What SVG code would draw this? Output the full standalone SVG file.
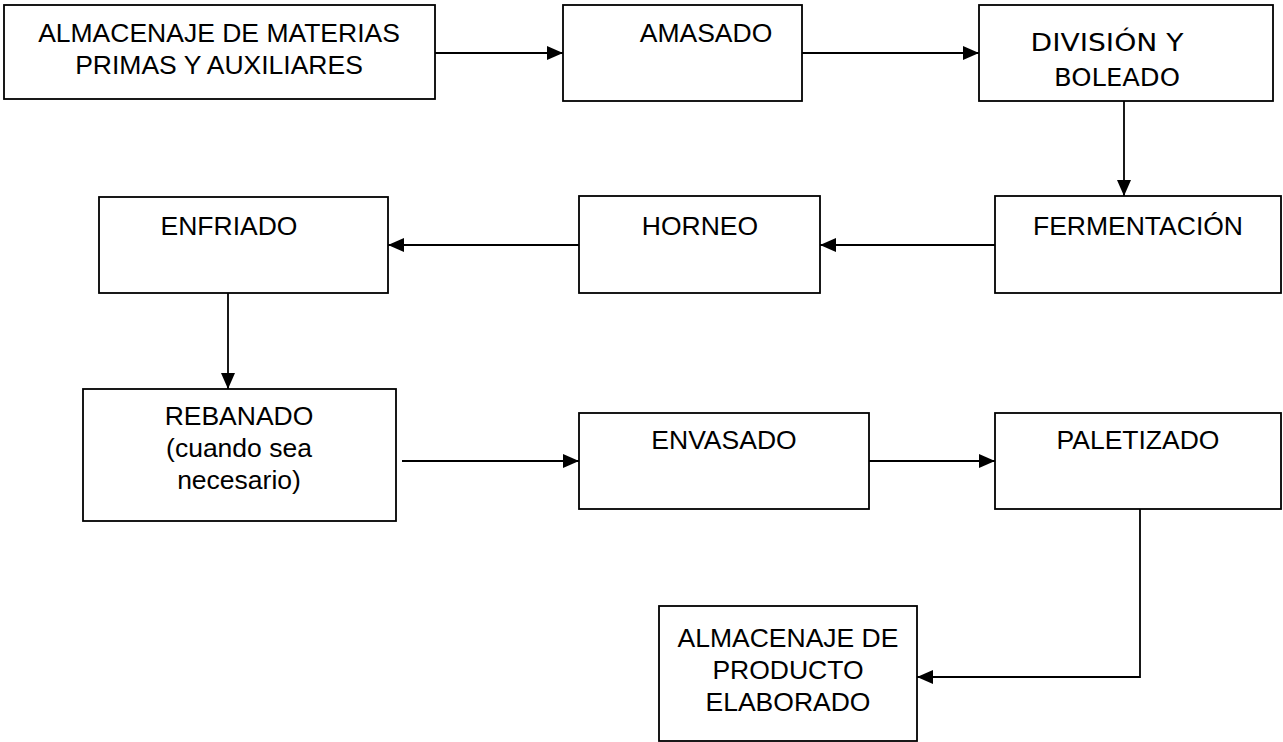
<svg xmlns="http://www.w3.org/2000/svg" width="1283" height="742" viewBox="0 0 1283 742">
<style>
.box{fill:#fff;stroke:#000;stroke-width:1.8}
.t{font-family:"Liberation Sans",Arial,sans-serif;font-size:26.5px;fill:#000;text-anchor:middle}
.c{font-family:"Comic Sans MS","DejaVu Sans",sans-serif;font-size:24px;fill:#000;text-anchor:middle}
.ln{fill:none;stroke:#000;stroke-width:1.8}
</style>
<defs>
<marker id="ah" viewBox="0 0 16 14" refX="16" refY="7" markerWidth="16" markerHeight="14" markerUnits="userSpaceOnUse" orient="auto">
<path d="M0,0 L16,7 L0,14 Z" fill="#000"/>
</marker>
</defs>
<rect width="1283" height="742" fill="#fff"/>
<g id="connectors">
<line class="ln" x1="435" y1="53" x2="563" y2="53" marker-end="url(#ah)"/>
<line class="ln" x1="802" y1="53" x2="979" y2="53" marker-end="url(#ah)"/>
<line class="ln" x1="1124" y1="101" x2="1124" y2="196" marker-end="url(#ah)"/>
<line class="ln" x1="995" y1="245" x2="820" y2="245" marker-end="url(#ah)"/>
<line class="ln" x1="579" y1="245" x2="388" y2="245" marker-end="url(#ah)"/>
<line class="ln" x1="228" y1="293" x2="228" y2="389" marker-end="url(#ah)"/>
<line class="ln" x1="402" y1="461" x2="579" y2="461" marker-end="url(#ah)"/>
<line class="ln" x1="869" y1="461" x2="995" y2="461" marker-end="url(#ah)"/>
<polyline class="ln" points="1140,509 1140,677 917,677" marker-end="url(#ah)"/>
</g>
<g id="n1"><rect class="box" x="4" y="5" width="431" height="94"/>
<text class="t" x="219" y="42">ALMACENAJE DE MATERIAS</text>
<text class="t" x="219" y="74">PRIMAS Y AUXILIARES</text></g>
<g id="n2"><rect class="box" x="563" y="5" width="239" height="96"/>
<text class="t" x="706" y="42">AMASADO</text></g>
<g id="n3"><rect class="box" x="979" y="5" width="294" height="96"/>
<text class="c" x="1107" y="51" textLength="153" lengthAdjust="spacingAndGlyphs">DIVISIÓN Y</text>
<text class="c" x="1117" y="86" textLength="126" lengthAdjust="spacingAndGlyphs">BOLEADO</text></g>
<g id="n4"><rect class="box" x="995" y="196" width="286" height="97"/>
<text class="t" x="1138" y="235">FERMENTACIÓN</text></g>
<g id="n5"><rect class="box" x="579" y="196" width="241" height="97"/>
<text class="t" x="700" y="235">HORNEO</text></g>
<g id="n6"><rect class="box" x="99" y="197" width="289" height="96"/>
<text class="t" x="229" y="235">ENFRIADO</text></g>
<g id="n7"><rect class="box" x="83" y="389" width="313" height="132"/>
<text class="t" x="239" y="425">REBANADO</text>
<text class="t" x="239" y="457">(cuando sea</text>
<text class="t" x="239" y="489">necesario)</text></g>
<g id="n8"><rect class="box" x="579" y="413" width="290" height="96"/>
<text class="t" x="724" y="449">ENVASADO</text></g>
<g id="n9"><rect class="box" x="995" y="413" width="286" height="96"/>
<text class="t" x="1138" y="449">PALETIZADO</text></g>
<g id="n10"><rect class="box" x="659" y="606" width="258" height="135"/>
<text class="t" x="788" y="647">ALMACENAJE DE</text>
<text class="t" x="788" y="679">PRODUCTO</text>
<text class="t" x="788" y="711">ELABORADO</text></g>
</svg>
